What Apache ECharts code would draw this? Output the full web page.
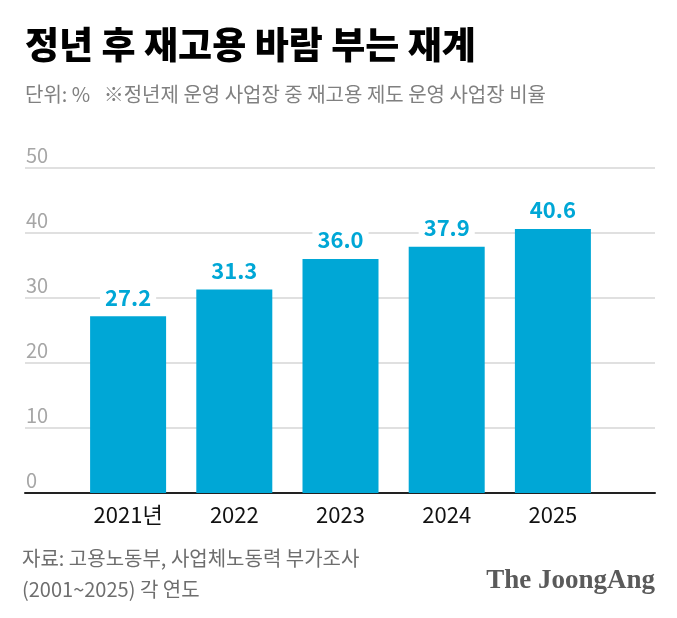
<!DOCTYPE html>
<html>
<head>
<meta charset="utf-8">
<script src="https://cdn.jsdelivr.net/npm/echarts@6/dist/echarts.min.js"></script>
<style>
html, body { margin: 0; padding: 0; background: #fff; }
#chart { width: 677px; height: 618px; }
</style>
</head>
<body>
<div id="chart"></div>
<script>
var years = ["2021년", "2022", "2023", "2024", "2025"];
var rates = [27.2, 31.3, 36.0, 37.9, 40.6];
var yTicks = [0, 50, 10]; // min, max, interval

var font = '"Noto Sans CJK KR", "Noto Sans", sans-serif';
var blue = '#00a7d6';

var myChart = echarts.init(document.getElementById("chart"));
var option = {
	backgroundColor: '#fff',
	animation: false,
	title: {
		text: "정년 후 재고용 바람 부는 재계",
		left: 20,
		top: 21,
		textStyle: {
			fontFamily: font,
			fontSize: 37,
			fontWeight: 900,
			color: '#000'
		},
		subtext: "단위: %   ※정년제 운영 사업장 중 재고용 제도 운영 사업장 비율",
		subtextStyle: {
			fontFamily: font,
			fontSize: 20,
			color: '#808080'
		},
		itemGap: 21
	},
	// grid 0 draws the wide gridlines, grid 1 holds the bars
	grid: [{
		left: 25,
		right: 22,
		top: 168,
		bottom: 125
	}, {
		left: 75,
		right: 71,
		top: 168,
		bottom: 125
	}],
	xAxis: [{
		gridIndex: 0,
		type: 'value',
		min: 0,
		max: 1,
		axisLine: {
			show: true,
			onZero: false,
			lineStyle: { color: '#222', width: 2 }
		},
		axisTick: { show: false },
		axisLabel: { show: false },
		splitLine: { show: false }
	}, {
		gridIndex: 1,
		type: 'category',
		data: years,
		axisLine: { show: false },
		axisTick: { show: false },
		axisLabel: {
			margin: 11,
			fontFamily: font,
			fontSize: 22,
			color: '#111'
		}
	}],
	yAxis: [{
		gridIndex: 0,
		type: 'value',
		min: yTicks[0],
		max: yTicks[1],
		interval: yTicks[2],
		axisLine: { show: false },
		axisTick: { show: false },
		axisLabel: {
			inside: true,
			margin: 0,
			verticalAlign: 'bottom',
			padding: [0, 0, 3, 1],
			fontFamily: font,
			fontSize: 20,
			color: '#a6a6a6'
		},
		splitLine: {
			show: true,
			lineStyle: { color: '#d6d6d6', width: 1.5 }
		}
	}, {
		gridIndex: 1,
		type: 'value',
		min: yTicks[0],
		max: yTicks[1],
		show: false
	}],
	series: [{
		type: 'bar',
		xAxisIndex: 1,
		yAxisIndex: 1,
		barWidth: 76,
		itemStyle: { color: blue },
		label: {
			show: true,
			position: 'top',
			distance: 8,
			formatter: function(p) { return p.value.toFixed(1); },
			fontFamily: font,
			fontSize: 22,
			fontWeight: 'bold',
			color: blue,
			backgroundColor: '#fff',
			padding: [0, 5, 0, 5]
		},
		data: rates
	}],
	graphic: [{
		type: 'text',
		left: 22,
		top: 543,
		style: {
			text: "자료: 고용노동부, 사업체노동력 부가조사\n(2001~2025) 각 연도",
			font: '20px ' + font,
			fill: '#6e6e6e',
			lineHeight: 31
		}
	}, {
		type: 'text',
		right: 22,
		top: 568,
		style: {
			text: "The JoongAng",
			font: 'bold 27px "Liberation Serif", serif',
			fill: '#5a5a5a'
		}
	}]
};
myChart.setOption(option);
</script>
</body>
</html>
